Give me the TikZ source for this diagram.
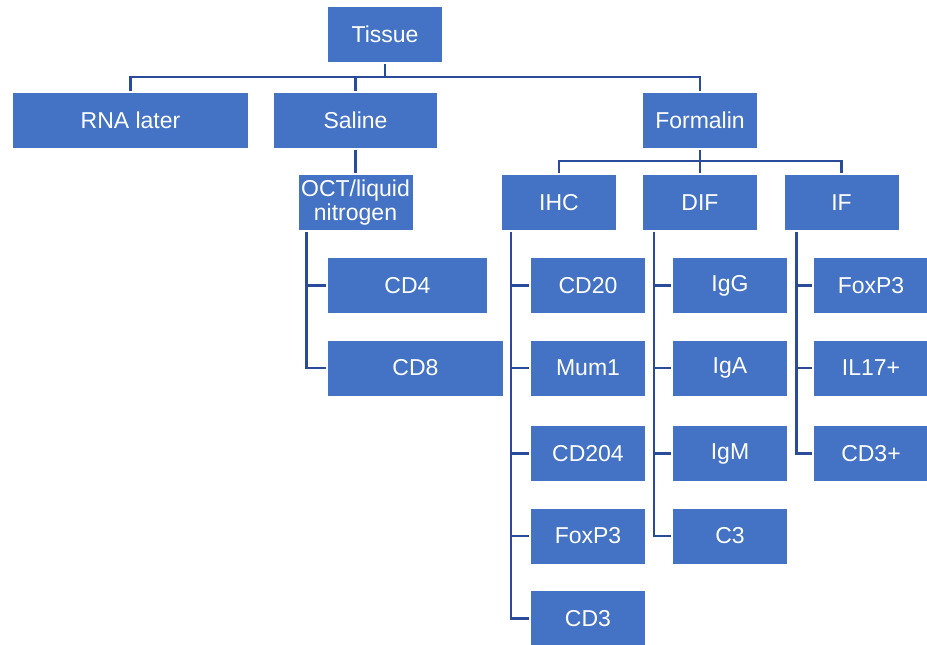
\documentclass[tikz,border=0pt]{standalone}
\usepackage{fontspec}
\setmainfont{Liberation Sans}
\usetikzlibrary{calc}
\definecolor{boxblue}{HTML}{4472C4}
\definecolor{linkblue}{HTML}{2A4A9C}
\begin{document}
\begin{tikzpicture}[x=1pt,y=-1pt,
  box/.style={fill=boxblue,draw=none,text=white,inner sep=0pt,outer sep=2pt,
    minimum width=114pt,minimum height=55pt,align=center,
    font=\fontsize{23}{24}\selectfont},
  link/.style={draw=linkblue,line width=2.2pt}]
\useasboundingbox (0,0) rectangle (927,645);
% level 0
\node[box] (tissue) at (385,34.5) {Tissue};
% level 1
\node[box,minimum width=235pt] (rna) at (130.5,120.5) {RNA later};
\node[box,minimum width=163pt] (saline) at (355.5,120.5) {Saline};
\node[box] (formalin) at (700,120.5) {Formalin};
% level 2
\node[box] (oct) at (355.5,202.5) {OCT/liquid\\nitrogen};
\node[box] (ihc) at (559,202.5) {IHC};
\node[box] (dif) at (700,202.5) {DIF};
\node[box] (if) at (841.5,202.5) {IF};
% OCT children
\node[box,minimum width=159pt] (cd4) at (407.5,285.5) {CD4};
\node[box,minimum width=175pt] (cd8) at (415.5,368) {CD8};
% IHC children
\node[box] (cd20) at (588,285.5) {CD20};
\node[box] (mum1) at (588,368) {Mum1};
\node[box] (cd204) at (588,453.5) {CD204};
\node[box] (foxp3a) at (588,536) {FoxP3};
\node[box] (cd3) at (588,618.5) {CD3};
% DIF children
\node[box] (igg) at (730,285.5) {IgG};
\node[box] (iga) at (730,368) {IgA};
\node[box] (igm) at (730,453.5) {IgM};
\node[box] (c3) at (730,536) {C3};
% IF children
\node[box] (foxp3b) at (871,285.5) {FoxP3};
\node[box] (il17) at (871,368) {IL17+};
\node[box] (cd3p) at (871,453.5) {CD3+};
% top bus
\coordinate (bus1) at (tissue.south |- 0,77);
\draw[link] (tissue.south) -- (bus1);
\draw[link] (rna.north) |- (bus1);
\draw[link] (formalin.north) |- (bus1);
\draw[link] (saline.north) -- (saline.north |- bus1);
% saline to OCT
\draw[link] (saline.south) -- (oct.north);
% formalin bus
\coordinate (bus2) at (formalin.south |- 0,161);
\draw[link] (formalin.south) -- (dif.north);
\draw[link] (ihc.north) |- (bus2);
\draw[link] (if.north) |- (bus2);
% OCT trunk
\coordinate (toct) at ($(oct.south west)+(10,0)$);
\draw[link] (toct) |- (cd8.west);
\draw[link] (toct |- cd4.west) -- (cd4.west);
% IHC trunk
\coordinate (tihc) at ($(ihc.south west)+(11,0)$);
\draw[link] (tihc) |- (cd3.west);
\foreach \n in {cd20,mum1,cd204,foxp3a}
  \draw[link] (tihc |- \n.west) -- (\n.west);
% DIF trunk
\coordinate (tdif) at ($(dif.south west)+(13,0)$);
\draw[link] (tdif) |- (c3.west);
\foreach \n in {igg,iga,igm}
  \draw[link] (tdif |- \n.west) -- (\n.west);
% IF trunk
\coordinate (tif) at ($(if.south west)+(14,0)$);
\draw[link] (tif) |- (cd3p.west);
\foreach \n in {foxp3b,il17}
  \draw[link] (tif |- \n.west) -- (\n.west);
\end{tikzpicture}
\end{document}
